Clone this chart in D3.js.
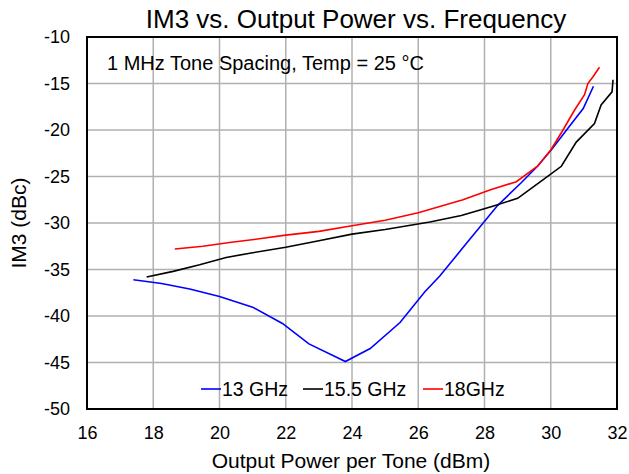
<!DOCTYPE html>
<html>
<head>
<meta charset="utf-8">
<script src="https://cdn.jsdelivr.net/npm/d3@7"></script>
<style>
  body { margin: 0; background: #fff; }
  text { font-family: "Liberation Sans", Arial, sans-serif; fill: #000; }
</style>
</head>
<body>
<svg id="chart" width="629" height="474"></svg>
<script>
// values
var x_ticks = [16, 18, 20, 22, 24, 26, 28, 30, 32]
var y_ticks = [-10, -15, -20, -25, -30, -35, -40, -45, -50]

var ghz13_x = [17.4, 18.25, 19.1, 20.0, 21.0, 21.9, 22.7, 23.8, 24.55, 25.45, 26.2, 26.65, 27.5, 28.4, 29.1, 29.6, 30.05, 30.5, 30.98, 31.29]
var ghz13_y = [-36.1, -36.5, -37.1, -37.9, -39.05, -40.8, -43.0, -44.9, -43.5, -40.7, -37.4, -35.7, -32.0, -28.1, -25.7, -23.9, -22.0, -19.9, -17.7, -15.3]

var ghz155_x = [17.8, 18.6, 19.4, 20.2, 21.0, 22.0, 23.0, 24.0, 25.0, 26.35, 27.3, 28.2, 29.0, 29.67, 30.32, 30.77, 31.32, 31.52, 31.85, 31.88]
var ghz155_y = [-35.8, -35.2, -34.5, -33.7, -33.2, -32.6, -31.9, -31.2, -30.7, -29.9, -29.2, -28.25, -27.35, -25.6, -23.9, -21.3, -19.3, -17.3, -15.9, -14.6]

var ghz18_x = [18.65, 19.5, 20.3, 21.2, 22.0, 23.0, 24.0, 25.0, 26.0, 27.35, 28.16, 28.96, 29.6, 30.0, 30.37, 30.72, 31.02, 31.12, 31.27, 31.47]
var ghz18_y = [-32.8, -32.5, -32.1, -31.7, -31.3, -30.9, -30.3, -29.7, -28.9, -27.5, -26.45, -25.56, -23.9, -22.15, -20.0, -17.85, -16.2, -15.0, -14.3, -13.25]

var series_names = ["13 GHz", "15.5 GHz", "18GHz"]
var series_colors = ["#0000ff", "#000000", "#ff0000"]

var svg = d3.select("#chart")
var margin = {left: 87, right: 12, top: 37, bottom: 65}
var width = 629, height = 474

var x_scale = d3.scaleLinear().domain([16, 32]).range([margin.left, width - margin.right]),
    y_scale = d3.scaleLinear().domain([-50, -10]).range([height - margin.bottom, margin.top])

// grid
svg.append("g")
  .selectAll("line")
  .data(x_ticks)
  .enter()
  .append("line")
  .attr("x1", d=>x_scale(d)).attr("x2", d=>x_scale(d))
  .attr("y1", y_scale(-10)).attr("y2", y_scale(-50))
  .style("stroke", "#b0b0b0").style("stroke-width", 1.5)

svg.append("g")
  .selectAll("line")
  .data(y_ticks)
  .enter()
  .append("line")
  .attr("x1", x_scale(16)).attr("x2", x_scale(32))
  .attr("y1", d=>y_scale(d)).attr("y2", d=>y_scale(d))
  .style("stroke", "#b0b0b0").style("stroke-width", 1.5)

// axes (labels only, frame drawn as rect) - plain hyphen like the original
var x_axis = svg.append("g")
  .attr("transform", "translate(0," + y_scale(-50) + ")")
  .call(d3.axisBottom(x_scale).tickValues(x_ticks).tickFormat(d=>String(d)).tickSize(0).tickPadding(17))
x_axis.select(".domain").remove()
x_axis.selectAll("text").style("font-size", "18px").style("font-family", "Liberation Sans, Arial, sans-serif")

var y_axis = svg.append("g")
  .attr("transform", "translate(" + x_scale(16) + ",0)")
  .call(d3.axisLeft(y_scale).tickValues(y_ticks).tickFormat(d=>String(d)).tickSize(0).tickPadding(17))
y_axis.select(".domain").remove()
y_axis.selectAll("text").style("font-size", "18px").style("font-family", "Liberation Sans, Arial, sans-serif")

svg.append("rect")
  .attr("x", x_scale(16)).attr("y", y_scale(-10))
  .attr("width", x_scale(32) - x_scale(16))
  .attr("height", y_scale(-50) - y_scale(-10))
  .style("fill", "none").style("stroke", "#000").style("stroke-width", 2)

// curves
var all_series = [
  {name: series_names[0], color: series_colors[0], xs: ghz13_x, ys: ghz13_y},
  {name: series_names[1], color: series_colors[1], xs: ghz155_x, ys: ghz155_y},
  {name: series_names[2], color: series_colors[2], xs: ghz18_x, ys: ghz18_y}
]

var line = d3.line().x(d=>x_scale(d[0])).y(d=>y_scale(d[1]))

svg.selectAll(".curve")
  .data(all_series)
  .enter()
  .append("path")
  .attr("class", "curve")
  .attr("d", d=>line(d.xs.map((v,i)=>[v, d.ys[i]])))
  .style("fill", "none")
  .style("stroke", d=>d.color)
  .style("stroke-width", 1.6)

// legend
var legend_x = [201, 303, 423]
var legend_g = svg.selectAll(".legend_item")
  .data(all_series)
  .enter()
  .append("g")
  .attr("class", "legend_item")
  .attr("transform", (d,i) => "translate(" + legend_x[i] + "," + 389 + ")")
legend_g.append("line")
  .attr("x1", 0).attr("x2", 20).attr("y1", 0).attr("y2", 0)
  .style("stroke", d=>d.color).style("stroke-width", 1.6)
legend_g.append("text")
  .attr("x", 21).attr("y", 7)
  .style("font-size", "19.5px")
  .text(d=>d.name)

// texts
svg.append("text")
  .attr("x", 356).attr("y", 28)
  .attr("text-anchor", "middle")
  .style("font-size", "26px")
  .text("IM3 vs. Output Power vs. Frequency")

svg.append("text")
  .attr("x", 107).attr("y", 70)
  .style("font-size", "20px")
  .text("1 MHz Tone Spacing, Temp = 25 °C")

svg.append("text")
  .attr("x", 351).attr("y", 468)
  .attr("text-anchor", "middle")
  .style("font-size", "21px")
  .text("Output Power per Tone (dBm)")

svg.append("text")
  .attr("transform", "translate(26," + ((y_scale(-10) + y_scale(-50)) / 2) + ") rotate(-90)")
  .attr("text-anchor", "middle")
  .style("font-size", "21px")
  .text("IM3 (dBc)")
</script>
</body>
</html>
